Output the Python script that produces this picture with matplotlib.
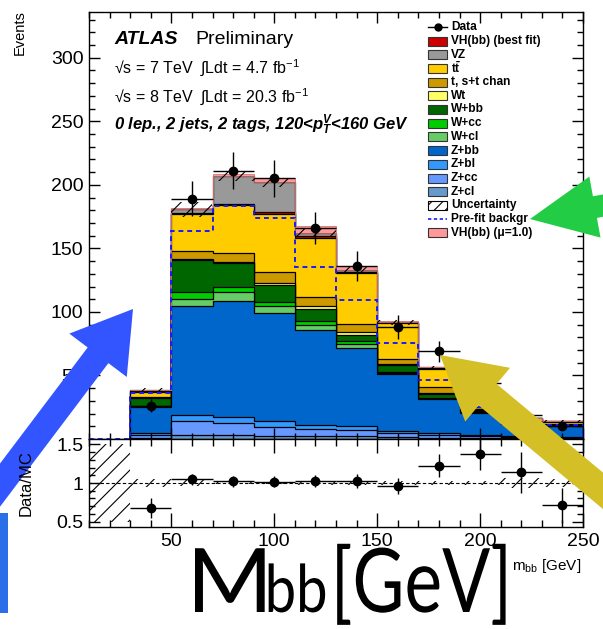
import numpy as np
import matplotlib
matplotlib.use('Agg')
import matplotlib.pyplot as plt
from matplotlib.patches import Rectangle, FancyArrow, PathPatch
from matplotlib.textpath import TextPath
from matplotlib.font_manager import FontProperties
from matplotlib.transforms import Affine2D
from matplotlib.ticker import MultipleLocator, FuncFormatter

plt.rcParams['font.family'] = ['Liberation Sans', 'DejaVu Sans']
plt.rcParams['mathtext.fontset'] = 'custom'
plt.rcParams['mathtext.rm'] = 'Liberation Sans'
plt.rcParams['mathtext.it'] = 'Liberation Sans:italic'
plt.rcParams['mathtext.bf'] = 'Liberation Sans:bold'
plt.rcParams['mathtext.sf'] = 'Liberation Sans:bold:italic'
plt.rcParams['hatch.linewidth'] = 0.8
plt.rcParams['hatch.color'] = 'black'

# m_bb bins, 20 GeV wide
edges = np.arange(30, 251, 20)
centers = 0.5 * (edges[1:] + edges[:-1])

# post-fit yields per sample (bottom of stack first)
zcl = [0.5, 3.0, 3.0, 2.5, 2.0, 2.0, 1.5, 1.0, 0.8, 0.5, 0.4]
zcc = [2.5, 11.5, 9.8, 7.0, 6.0, 5.0, 3.0, 2.0, 1.2, 0.8, 0.6]
zbl = [1.5, 4.0, 4.4, 4.5, 3.0, 3.0, 2.0, 1.5, 1.0, 0.7, 0.6]
zbb = [20.5, 86.0, 91.2, 85.3, 74.6, 61.8, 44.3, 26.6, 17.7, 9.5, 8.6]
wcl = [0.5, 5.5, 7.0, 5.2, 4.4, 3.3, 1.5, 0.5, 0.5, 0.2, 0.1]
wcc = [0.5, 5.8, 4.0, 3.1, 2.6, 1.9, 0.8, 0.4, 0.5, 0.1, 0.1]
wbb = [6.0, 25.4, 19.2, 13.9, 9.8, 5.2, 4.8, 3.5, 1.5, 0.7, 0.5]
wt = [0.3, 0.5, 0.5, 1.5, 2.1, 1.8, 1.3, 0.5, 0.3, 0.2, 0.1]
stop = [0.5, 6.0, 7.3, 8.2, 7.3, 6.6, 3.9, 5.0, 1.9, 0.8, 0.5]
ttbar = [4.5, 29.0, 37.5, 46.2, 46.4, 40.1, 27.8, 14.3, 5.7, 2.7, 2.2]
vh_fit = [0.2, 1.0, 1.0, 1.2, 1.5, 1.0, 0.5, 0.3, 0.2, 0.1, 0.1]
vz = [0.8, 3.0, 22.0, 23.4, 2.5, 1.3, 0.5, 0.7, 0.6, 0.4, 0.3]
vh_sm = [0.3, 0.8, 1.5, 3.0, 5.8, 3.0, 1.0, 0.5, 0.3, 0.2, 0.1]

data = np.array([26, 189, 211, 205, 166, 136, 88, 69, 44, 19, 10])
unc = np.array([2.0, 6.0, 4.0, 3.5, 3.5, 3.0, 2.0, 1.5, 1.0, 1.0, 0.8])
prefit = [0.0, 36.0, 163.5, 183.0, 174.0, 135.2, 109.7, 75.2, 46.3, 25.4, 14.0, 10.7]
prefit_edges = np.arange(10, 251, 20)

stack = [zcl, zcc, zbl, zbb, wcl, wcc, wbb, wt, stop, ttbar, vh_fit, vz]
stack_colors = ['#6699cc', '#6699ff', '#3399ff', '#0066cc', '#66cc66', '#00cc00',
                '#006600', '#ffff66', '#cc9900', '#ffcc00', '#cc0000', '#999999']

cum = np.cumsum(np.array(stack), axis=0)
total = cum[-1]

W, H = 603, 629
fig = plt.figure(figsize=(W / 100, H / 100), dpi=100)
ax = fig.add_axes([89 / W, 1 - 439 / H, 494 / W, 427 / H])
axr = fig.add_axes([89 / W, 1 - 527 / H, 494 / W, 88 / H])

# stack: draw cumulative sums from the top down, like THStack
for k in range(len(stack) - 1, -1, -1):
    ax.stairs(cum[k], edges, baseline=0, fill=True, facecolor=stack_colors[k],
              edgecolor='black', linewidth=0.9)
ax.stairs(total + np.array(vh_sm), edges, baseline=total, fill=True,
          facecolor='#ff9999', edgecolor='#cc6666', linewidth=0.5)
ax.bar(centers, 2 * unc, bottom=total - unc, width=20, facecolor='none',
       edgecolor='black', hatch='//', linewidth=0, zorder=3)
ax.stairs(prefit, prefit_edges, baseline=0, fill=False, edgecolor='#1a1aff',
          linestyle=(0, (2.5, 2)), linewidth=1.4, zorder=4)
ax.errorbar(centers, data, yerr=np.sqrt(data), xerr=10, fmt='o', color='black',
            ms=6, elinewidth=1, capsize=0, zorder=5)

ax.set_xlim(10, 250)
ax.set_ylim(0, 336)
ax.xaxis.set_major_locator(MultipleLocator(50))
ax.xaxis.set_minor_locator(MultipleLocator(10))
ax.yaxis.set_major_locator(MultipleLocator(50))
ax.yaxis.set_minor_locator(MultipleLocator(10))
ax.set_yticks([50, 100, 150, 200, 250, 300])
ax.tick_params(labelbottom=False)

# ratio panel
ratio = data / total
ratio_err = np.sqrt(data) / total
rel_unc = unc / total
axr.bar(20, 1.0, bottom=0.5, width=20, facecolor='none', edgecolor='black',
        hatch='//', linewidth=0)
axr.bar(centers, 2 * rel_unc, bottom=1 - rel_unc, width=20, facecolor='none',
        edgecolor='black', hatch='//', linewidth=0)
axr.axhline(1, color='black', linestyle=(0, (3, 2)), linewidth=0.8)
axr.errorbar(centers, ratio, yerr=ratio_err, xerr=10, fmt='o', color='black',
             ms=6, elinewidth=1, capsize=0, zorder=5)
axr.set_xlim(10, 250)
axr.set_ylim(0.43, 1.57)
axr.xaxis.set_major_locator(MultipleLocator(50))
axr.xaxis.set_minor_locator(MultipleLocator(10))
axr.yaxis.set_major_locator(MultipleLocator(0.5))
axr.yaxis.set_minor_locator(MultipleLocator(0.1))
axr.yaxis.set_major_formatter(FuncFormatter(lambda v, p: f'{v:g}'))

for a in (ax, axr):
    a.tick_params(which='both', direction='in', top=True, right=True,
                  labelsize=14, width=1, pad=4)
    a.tick_params(which='major', length=8)
    a.tick_params(which='minor', length=4)
    for s in a.spines.values():
        s.set_linewidth(1)
axr.tick_params(axis='x', which='major', length=10)
axr.tick_params(axis='x', which='minor', length=5)

# overlay in pixel units for labels, legend and annotations
ov = fig.add_axes([0, 0, 1, 1], zorder=10)
ov.set_xlim(0, W)
ov.set_ylim(H, 0)
ov.axis('off')

ov.text(20, 10, 'Events', rotation=90, ha='center', va='top', fontsize=10.5)
ov.text(26, 483, 'Data/MC', rotation=90, ha='center', va='center', fontsize=12)
ov.text(581, 566, r'm$_{\rm bb}$ [GeV]', ha='right', va='center', fontsize=11)

ov.text(114, 40, 'ATLAS', fontsize=14, fontweight='bold', fontstyle='italic', va='center')
ov.text(195, 40, 'Preliminary', fontsize=14, va='center')
ov.text(114, 68, '\u221as = 7 TeV  \u222bLdt = 4.7 fb$^{-1}$', fontsize=11.5, va='center')
ov.text(114, 97, '\u221as = 8 TeV  \u222bLdt = 20.3 fb$^{-1}$', fontsize=11.5, va='center')
ov.text(114, 125, r'0 lep., 2 jets, 2 tags, 120<$\mathsf{p}_{\mathsf{T}}^{\mathsf{V}}$<160 GeV',
        fontsize=12, fontweight='bold', fontstyle='italic', va='center')

# legend
leg_labels = ['Data', 'VH(bb) (best fit)', 'VZ', r'$\mathbf{t\bar{t}}$', 't, s+t chan', 'Wt',
              'W+bb', 'W+cc', 'W+cl', 'Z+bb', 'Z+bl', 'Z+cc', 'Z+cl', 'Uncertainty',
              'Pre-fit backgr', 'VH(bb) (\u03bc=1.0)']
leg_colors = [None, '#cc0000', '#999999', '#ffcc00', '#cc9900', '#ffff66', '#006600',
              '#00cc00', '#66cc66', '#0066cc', '#3399ff', '#6699ff', '#6699cc',
              None, None, '#ff9999']
for i, (lab, col) in enumerate(zip(leg_labels, leg_colors)):
    y = 27.3 + i * 13.7
    if lab == 'Data':
        ov.plot([428, 447], [y, y], color='black', lw=1)
        ov.plot([437.5], [y], 'o', color='black', ms=5)
    elif lab == 'Uncertainty':
        ov.add_patch(Rectangle((428, y - 4.5), 19, 9, facecolor='white',
                               edgecolor='black', hatch='///', lw=0.8))
    elif lab == 'Pre-fit backgr':
        ov.plot([428, 447], [y, y], color='#1a1aff', lw=1.2, linestyle=(0, (2, 1.5)))
    else:
        ov.add_patch(Rectangle((428, y - 4.5), 19, 9, facecolor=col,
                               edgecolor='#333333', lw=0.8))
    ov.text(451, y, lab, fontsize=8.6, fontweight='bold', va='center')

# annotation overlay
ov.add_patch(FancyArrow(-15, 505, 148, -196, width=26, head_width=72, head_length=58,
                        length_includes_head=True, color='#3355ff', lw=0))
ov.add_patch(FancyArrow(650, 197, -120, 22, width=22, head_width=62, head_length=66,
                        length_includes_head=True, color='#22cc44', lw=0))
ov.add_patch(FancyArrow(650, 530, -210, -175, width=28, head_width=70, head_length=62,
                        length_includes_head=True, color='#d4bf26', lw=0))
ov.add_patch(Rectangle((0, 513), 8, 100, color='#2b6fe8', lw=0))

big_font = FontProperties(family='Lato')


def big_text(s, x0, em, sx, base=612):
    # glyph outlines, slightly condensed, left edge of ink at x0
    path = TextPath((0, 0), s, size=em, prop=big_font)
    ext = path.get_extents()
    tr = Affine2D().translate(-ext.x0, 0).scale(sx, -1).translate(x0, base)
    ov.add_patch(PathPatch(path, transform=tr + ov.transData, facecolor='black', lw=0))
    return x0 + ext.width * sx


right = big_text('M', 195, 89, 1.05)
right = big_text('bb', right + 4, 66, 0.85)
big_text('[GeV]', right + 12, 89, 0.8)

fig.savefig('out.png', dpi=100)
